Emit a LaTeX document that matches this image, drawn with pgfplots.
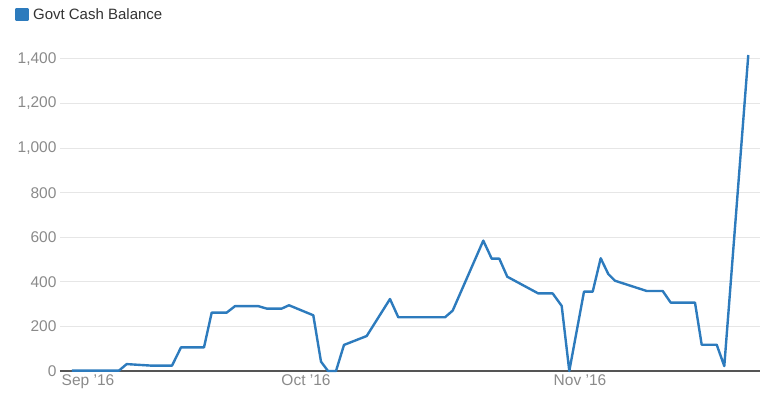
\documentclass[border=0pt]{standalone}
\usepackage{pgfplots}
\pgfplotsset{compat=1.18}
\usepackage{fontspec}
\setmainfont{Liberation Sans}
\definecolor{linec}{HTML}{2D7BBD}
\definecolor{gridc}{HTML}{E6E6E6}
\definecolor{tickc}{HTML}{8A8A8A}
\definecolor{axisc}{HTML}{555555}
\definecolor{legc}{HTML}{333333}
\begin{document}
\begin{tikzpicture}
\useasboundingbox (-60bp,-40bp) rectangle (720bp,371bp);
\begin{axis}[
  scale only axis, width=700bp, height=312bp,
  xmin=60, xmax=760, ymin=0, ymax=1400,
  clip=false,
  axis line style={draw=none},
  major tick length=0pt,
  xtick={88,306,580},
  xticklabels={Sep '16, Oct '16, Nov '16},
  ytick={0,200,400,600,800,1000,1200,1400},
  ymajorgrids, grid style={gridc, line width=1bp},
  tick label style={font=\fontsize{15.5bp}{18bp}\selectfont, text=tickc},
  /pgf/number format/1000 sep={,},
  /pgf/number format/assume math mode=true,
  legend style={at={(axis description cs:-0.0643,1.1426)}, anchor=west, draw=none, fill=none, inner sep=0pt, font=\fontsize{15bp}{18bp}\selectfont, text=legc,
    /tikz/every odd column/.append style={column sep=2.5bp}},
  legend cell align=left,
]
\draw[axisc, line width=1.5bp] (rel axis cs:0,0) -- (rel axis cs:1,0);
\addplot[linec, line width=2.4bp, line join=round, no markers,
  legend image code/.code={\fill[linec] (0bp,-5.5bp) rectangle (11bp,5.5bp);}]
  coordinates {
(72,2) (119,2) (126.7,31) (151.7,24) (172,24) (181,106) (204,106)
(211.7,262) (226.7,262) (235,291) (258.3,291) (266.7,280) (281.7,280)
(289,295) (313.3,250) (321,42) (328,0) (336,0) (344,117) (366.7,157)
(390,323) (398.3,241) (445,241) (452.7,271) (483.3,585) (491.7,504)
(499.3,504) (507.3,423) (538.3,348) (552.7,348) (561.7,292) (569.3,0)
(584,356) (592.7,356) (600.7,506) (608.3,435) (615,405) (646.7,359)
(662.7,359) (670.7,307) (695,307) (701.7,118) (716.7,118) (724.3,22)
(748.3,1418)
};
\addlegendentry{Govt Cash Balance}
\end{axis}
\end{tikzpicture}
\end{document}
